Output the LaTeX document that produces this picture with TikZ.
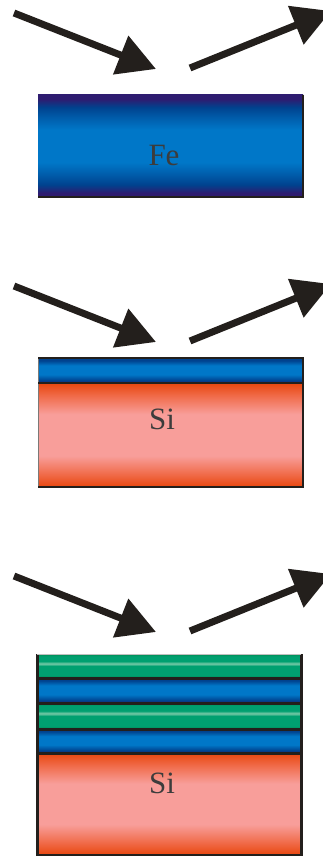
\documentclass[tikz,border=0pt]{standalone}
\usepackage{fontspec}
\setmainfont{Liberation Serif}
\usetikzlibrary{arrows.meta}
\definecolor{fep}{HTML}{2E1C70}
\definecolor{fed}{HTML}{00428E}
\definecolor{fem}{HTML}{005CAA}
\definecolor{feb}{HTML}{0077C8}
\definecolor{sio}{HTML}{E8460E}
\definecolor{sim}{HTML}{F06A48}
\definecolor{sip}{HTML}{F89E9A}
\definecolor{gd}{HTML}{008A50}
\definecolor{gm}{HTML}{00A070}
\definecolor{gl}{HTML}{78CAA8}
\definecolor{ink}{HTML}{231F1C}
\definecolor{txt}{HTML}{3C3C3C}
\pgfdeclareverticalshading{feshade}{100bp}{color(0bp)=(fep); color(25bp)=(fep); color(27bp)=(fep); color(31bp)=(fed); color(36bp)=(fem); color(42bp)=(feb); color(58bp)=(feb); color(64bp)=(fem); color(69bp)=(fed); color(73bp)=(fep); color(75bp)=(fep); color(100bp)=(fep)}
\pgfdeclareverticalshading{blueshade}{100bp}{color(0bp)=(fep); color(25bp)=(fep); color(30bp)=(fed); color(42bp)=(feb); color(60bp)=(feb); color(70bp)=(fed); color(75bp)=(fed); color(100bp)=(fed)}
\pgfdeclareverticalshading{sishade}{100bp}{color(0bp)=(sio); color(25bp)=(sio); color(31bp)=(sim); color(40bp)=(sip); color(60bp)=(sip); color(69bp)=(sim); color(75bp)=(sio); color(100bp)=(sio)}
\pgfdeclareverticalshading{greenshade}{100bp}{color(0bp)=(gd); color(25bp)=(gd); color(31bp)=(gm); color(50bp)=(gm); color(55bp)=(gl); color(60bp)=(gm); color(70bp)=(gm); color(75bp)=(gd); color(100bp)=(gd)}
\tikzset{
  ray/.style={draw=ink, line width=7pt, -{Triangle[length=38pt,width=40pt]}, fill=ink},
  bord/.style={draw=ink, line width=2.5pt},
  lbl/.style={text=txt, font=\fontsize{31}{31}\selectfont, inner sep=0pt}
}
\begin{document}
\begin{tikzpicture}[x=1pt,y=-1pt]
\useasboundingbox (0,0) rectangle (322,856);
% ---------- panel 1
\coordinate (a1s) at (14,13);
\coordinate (a1t) at (156,69);
\coordinate (b1s) at (190,68);
\coordinate (b1t) at (331,11);
\draw[ray] (a1s) -- (a1t);
\draw[ray] (b1s) -- (b1t);
\path[shading=feshade] (38,95) rectangle (303,197);
\draw[bord] (303,95) -- (303,197) -- (38,197);
\node[lbl] (fe) at (164,156) {Fe};
% ---------- panel 2
\coordinate (a2s) at (14,286);
\coordinate (a2t) at (156,342);
\coordinate (b2s) at (190,341);
\coordinate (b2t) at (331,284);
\draw[ray] (a2s) -- (a2t);
\draw[ray] (b2s) -- (b2t);
\path[shading=blueshade] (38,358) rectangle (303,383);
\path[shading=sishade] (38,383) rectangle (303,487);
\draw[draw=ink!60, line width=1pt] (38,358) -- (38,487);
\draw[bord] (38,358) -- (303,358) -- (303,487) -- (38,487);
\draw[bord] (38,383) -- (303,383);
\node[lbl] (si1) at (162,419) {Si};
% ---------- panel 3
\coordinate (a3s) at (14,576);
\coordinate (a3t) at (156,632);
\coordinate (b3s) at (190,631);
\coordinate (b3t) at (331,574);
\draw[ray] (a3s) -- (a3t);
\draw[ray] (b3s) -- (b3t);
\path[shading=greenshade] (37,654) rectangle (301,678);
\path[shading=blueshade] (37,678) rectangle (301,703);
\path[shading=greenshade] (37,703) rectangle (301,729);
\path[shading=blueshade] (37,729) rectangle (301,753);
\path[shading=sishade] (37,753) rectangle (301,855);
\draw[bord, line width=3pt] (37,654) -- (37,855) -- (301,855) -- (301,654);
\draw[draw=gray!50, line width=1pt] (37,654) -- (301,654);
\foreach \yy in {678,703,729,753} \draw[bord, line width=3pt] (37,\yy) -- (301,\yy);
\node[lbl] (si2) at (162,783) {Si};
\end{tikzpicture}
\end{document}
